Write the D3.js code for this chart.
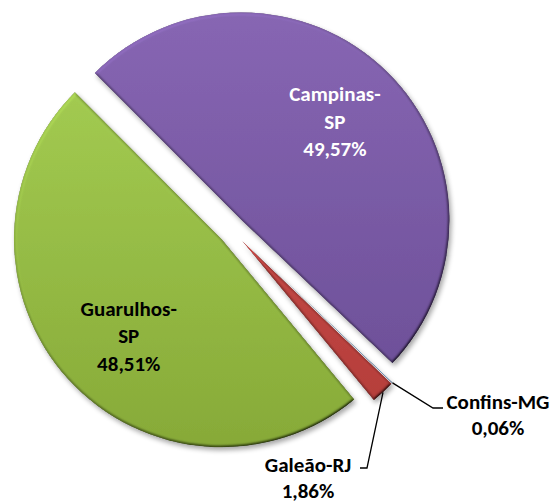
<!DOCTYPE html>
<html>
<head>
<meta charset="utf-8">
<script src="https://cdn.jsdelivr.net/npm/d3@7"></script>
<style>
  body { margin: 0; background: #fff; }
  svg { display: block; }
  .lbl { font-family: Calibri, Carlito, Lato, sans-serif; font-weight: bold; font-size: 21px; }
</style>
</head>
<body>
<div class="chart"></div>
<script>
// data (Excel order, clockwise from the first slice angle)
var airports = ["Confins-MG", "Galeão-RJ", "Guarulhos-SP", "Campinas-SP"];
var shares = [0.06, 1.86, 48.51, 49.57];
var shareText = ["0,06%", "1,86%", "48,51%", "49,57%"];

// fill: light top -> dark bottom
var topColors = ["#9dbde6", "#d2524f", "#a7d055", "#8766b3"];
var bottomColors = ["#4f81bd", "#b23c39", "#87aa38", "#6a4d95"];

var width = 558, height = 504;
var cx = 232, cy = 230;
var radius = 208;
var explode = 13.7;
var firstAngle = 133.5 * Math.PI / 180;

var svg = d3.select(".chart").append("svg")
    .attr("width", width)
    .attr("height", height);

var defs = svg.append("defs");

topColors.forEach(function (c, i) {
  var g = defs.append("linearGradient")
      .attr("id", "grad" + i)
      .attr("gradientUnits", "userSpaceOnUse")
      .attr("x1", 0).attr("y1", -radius)
      .attr("x2", 0).attr("y2", radius);
  g.append("stop").attr("offset", "0%").attr("stop-color", c);
  g.append("stop").attr("offset", "100%").attr("stop-color", bottomColors[i]);
});

// soft bevel + shadow, like the Office look
var f = defs.append("filter").attr("id", "bevel")
    .attr("x", "-10%").attr("y", "-10%").attr("width", "125%").attr("height", "125%");
f.append("feGaussianBlur").attr("in", "SourceAlpha").attr("stdDeviation", 1.6).attr("result", "blur");
var light = f.append("feDiffuseLighting").attr("in", "blur")
    .attr("surfaceScale", 3).attr("diffuseConstant", 0.577)
    .attr("lighting-color", "#fff").attr("result", "diff");
light.append("feDistantLight").attr("azimuth", 235).attr("elevation", 60);
f.append("feComposite").attr("in", "SourceGraphic").attr("in2", "diff")
    .attr("operator", "arithmetic").attr("k1", 2).attr("k2", 0).attr("k3", 0).attr("k4", 0)
    .attr("result", "lit");
f.append("feComposite").attr("in", "lit").attr("in2", "SourceAlpha").attr("operator", "in").attr("result", "litIn");
f.append("feGaussianBlur").attr("in", "SourceAlpha").attr("stdDeviation", 2.5).attr("result", "sblur");
f.append("feOffset").attr("in", "sblur").attr("dx", 2).attr("dy", 3).attr("result", "soff");
f.append("feComponentTransfer").attr("in", "soff").attr("result", "shadow")
  .append("feFuncA").attr("type", "linear").attr("slope", 0.35);
var m = f.append("feMerge");
m.append("feMergeNode").attr("in", "shadow");
m.append("feMergeNode").attr("in", "litIn");

var pie = d3.pie()
    .sort(null)
    .value(function (d) { return d; })
    .startAngle(firstAngle)
    .endAngle(firstAngle + 2 * Math.PI);

var arc = d3.arc().innerRadius(0).outerRadius(radius);
var labelArc = d3.arc().innerRadius(138).outerRadius(138);

var slices = pie(shares);

function offset(d) {
  var a = (d.startAngle + d.endAngle) / 2;
  return [cx + explode * Math.sin(a), cy - explode * Math.cos(a)];
}

var g = svg.selectAll("g.slice")
    .data(slices)
    .enter().append("g")
    .attr("class", "slice")
    .attr("transform", function (d) { return "translate(" + offset(d) + ")"; });

g.append("path")
    .attr("d", arc)
    .attr("fill", function (d, i) { return "url(#grad" + i + ")"; })
    .attr("filter", "url(#bevel)");

// inside labels for the two big slices (small nudge like Excel's best fit)
var nudge = { 2: [9, 4], 3: [-3, 0] };
g.filter(function (d) { return d.data > 10; })
  .each(function (d) {
    var p = labelArc.centroid(d);
    var idx = d.index;
    var n = nudge[idx] || [0, 0];
    var name = airports[idx].split("-");
    var t = d3.select(this).append("text")
        .attr("class", "lbl")
        .attr("text-anchor", "middle")
        .attr("fill", idx === 3 ? "#fff" : "#000")
        .attr("transform", "translate(" + (p[0] + n[0]) + "," + (p[1] + n[1]) + ")");
    t.append("tspan").attr("x", 0).attr("dy", "-0.95em").text(name[0] + "-");
    t.append("tspan").attr("x", 0).attr("dy", "1.3em").text(name[1]);
    t.append("tspan").attr("x", 0).attr("dy", "1.3em").text(shareText[idx]);
  });

// outside labels with leader lines for the small slices
var outside = [
  { i: 0, bend: [433, 408], end: [443, 408], text: [498, 409] },
  { i: 1, bend: [367, 468], end: [360, 468], text: [308, 472] }
];

outside.forEach(function (o) {
  var d = slices[o.i];
  var off = offset(d);
  var a = (d.startAngle + d.endAngle) / 2;
  var start = [off[0] + radius * Math.sin(a), off[1] - radius * Math.cos(a)];
  svg.append("polyline")
      .attr("points", [start, o.bend, o.end].map(function (p) { return p.join(","); }).join(" "))
      .attr("fill", "none")
      .attr("stroke", "#000")
      .attr("stroke-width", 1.3);
  var t = svg.append("text")
      .attr("class", "lbl")
      .attr("text-anchor", "middle")
      .attr("fill", "#000")
      .attr("x", o.text[0])
      .attr("y", o.text[1]);
  t.append("tspan").attr("x", o.text[0]).text(airports[o.i]);
  t.append("tspan").attr("x", o.text[0]).attr("dy", "1.25em").text(shareText[o.i]);
});
</script>
</body>
</html>
